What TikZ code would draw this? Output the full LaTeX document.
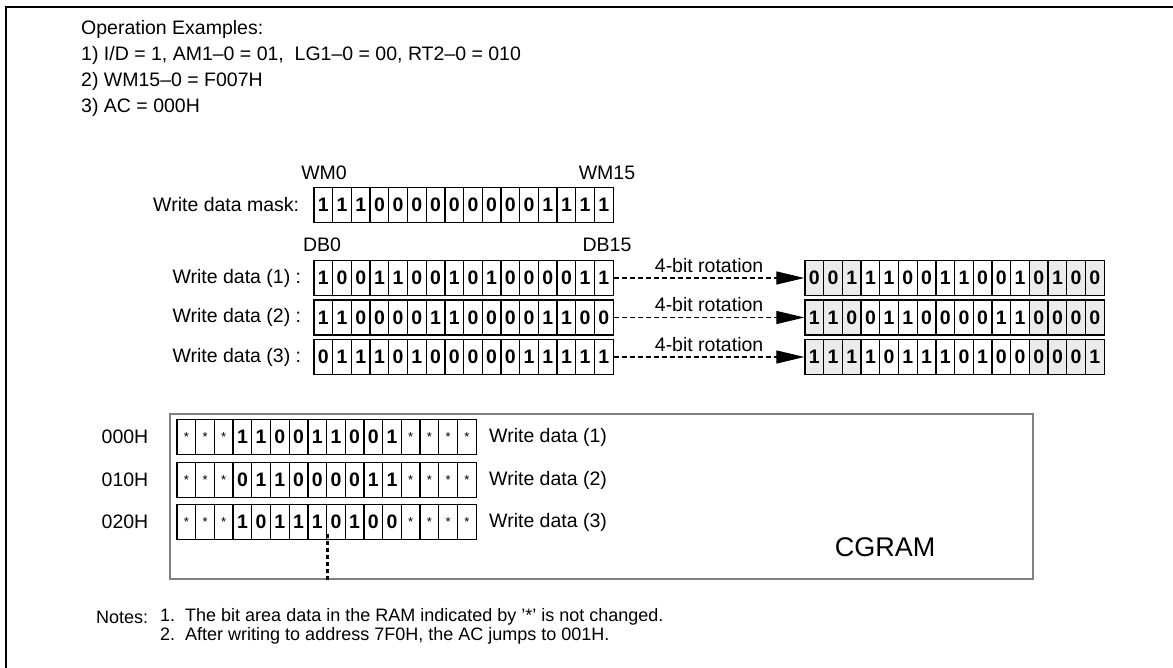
\documentclass[tikz,border=0pt]{standalone}
\usepackage{fontspec}
\setmainfont{Liberation Sans}
\usetikzlibrary{arrows.meta}
\newcommand\szA{\fontsize{19.5}{24}\selectfont}
\newcommand\szN{\fontsize{18}{20}\selectfont}
\newcommand\szC{\fontsize{27}{30}\selectfont}
\newcommand\stc{{\mdseries\fontsize{13}{13}\selectfont *}}
\tikzset{
  cell/.style={draw=black, line width=1.3pt, minimum width=18.7pt, minimum height=35pt,
    inner sep=0pt, font=\szA\bfseries},
  lbl/.style={inner sep=0pt, font=\szA},
  note/.style={inner sep=0pt, font=\szN, anchor=west},
  rotarrow/.style={line width=1.2pt, dash pattern=on 5pt off 3pt,
    -{Triangle[length=28pt,width=13pt]}},
  ramframe/.style={draw=black!50, line width=2.8pt},
  thickdash/.style={line width=3.5pt, dash pattern=on 4pt off 3pt}
}
\begin{document}
\begin{tikzpicture}[x=1pt,y=-1pt]
\useasboundingbox (0,0) rectangle (1173,668);
% outer frame
\coordinate (fbl) at (6,668);
\coordinate (ftl) at (6,7);
\coordinate (ftr) at (1173,7);
\draw[line width=2pt] (fbl) -- (ftl) -- (ftr);
% heading text
\node[lbl, anchor=west] (t0) at (81,29) {Operation Examples:};
\node[lbl, anchor=west] (t1) at (81,55) {1) I/D = 1, AM1–0 = 01,\ \ LG1–0 = 00, RT2–0 = 010};
\node[lbl, anchor=west] (t2) at (81,81) {2) WM15–0 = F007H};
\node[lbl, anchor=west] (t3) at (81,107) {3) AC = 000H};
% write data mask
\node[lbl] (wm0) at (324,173) {WM0};
\node[lbl] (wm15) at (607,173) {WM15};
\foreach \b [count=\i] in {1,1,1,0,0,0,0,0,0,0,0,0,1,1,1,1}
  \node[cell] (m\i) at ({314+18.7*(\i-0.5)},205) {\b};
\node[lbl, anchor=east] (ml) at ([xshift=-14pt]m1.west) {Write data mask:};
% write data rows
\node[lbl] (db0) at (322,245) {DB0};
\node[lbl] (db15) at (607,245) {DB15};
\foreach \b [count=\i] in {1,0,0,1,1,0,0,1,0,1,0,0,0,0,1,1}
  \node[cell] (a\i) at ({314+18.7*(\i-0.5)},278) {\b};
\foreach \b [count=\i] in {1,1,0,0,0,0,1,1,0,0,0,0,1,1,0,0}
  \node[cell] (b\i) at ({314+18.7*(\i-0.5)},317.5) {\b};
\foreach \b [count=\i] in {0,1,1,1,0,1,0,0,0,0,0,1,1,1,1,1}
  \node[cell] (c\i) at ({314+18.7*(\i-0.5)},357) {\b};
\node[lbl, anchor=east] (al) at ([xshift=-12pt]a1.west) {Write data (1) :};
\node[lbl, anchor=east] (bl) at ([xshift=-12pt]b1.west) {Write data (2) :};
\node[lbl, anchor=east] (cl) at ([xshift=-12pt]c1.west) {Write data (3) :};
% rotated rows
\foreach \b/\f [count=\i] in {0/8,0/8,1/8,1/0,1/0,0/0,0/0,1/0,1/0,0/0,0/0,1/0,0/8,1/8,0/8,0/8}
  \node[cell, fill=black!\f!white] (ra\i) at ({805+18.7*(\i-0.5)},278) {\b};
\foreach \b/\f [count=\i] in {1/8,1/8,0/8,0/0,1/0,1/0,0/0,0/0,0/0,0/0,1/0,1/0,0/8,0/8,0/8,0/8}
  \node[cell, fill=black!\f!white] (rb\i) at ({805+18.7*(\i-0.5)},317.5) {\b};
\foreach \b/\f [count=\i] in {1/8,1/8,1/8,1/0,0/0,1/0,1/0,1/0,0/0,1/0,0/0,0/0,0/8,0/8,0/8,1/8}
  \node[cell, fill=black!\f!white] (rc\i) at ({805+18.7*(\i-0.5)},357) {\b};
% rotation arrows
\draw[rotarrow] (a16.east) -- node[lbl, above=5pt] (rota) {4-bit rotation} (ra1.west);
\draw[rotarrow] (b16.east) -- node[lbl, above=5pt] (rotb) {4-bit rotation} (rb1.west);
\draw[rotarrow] (c16.east) -- node[lbl, above=5pt] (rotc) {4-bit rotation} (rc1.west);
% CGRAM
\node[ramframe, minimum width=863pt, minimum height=165pt, inner sep=0pt] (ram) at (601.5,496.5) {};
\node[inner sep=0pt, font=\szC] (ramlbl) at (885,547) {CGRAM};
\foreach \b [count=\i] in {\stc,\stc,\stc,1,1,0,0,1,1,0,0,1,\stc,\stc,\stc,\stc}
  \node[cell] (p\i) at ({177+18.7*(\i-0.5)},437) {\b};
\foreach \b [count=\i] in {\stc,\stc,\stc,0,1,1,0,0,0,0,1,1,\stc,\stc,\stc,\stc}
  \node[cell] (q\i) at ({177+18.7*(\i-0.5)},480) {\b};
\foreach \b [count=\i] in {\stc,\stc,\stc,1,0,1,1,1,0,1,0,0,\stc,\stc,\stc,\stc}
  \node[cell] (s\i) at ({177+18.7*(\i-0.5)},522) {\b};
\node[lbl] (ad0) at (125,437) {000H};
\node[lbl] (ad1) at (125,480) {010H};
\node[lbl] (ad2) at (125,522) {020H};
\node[lbl, anchor=west] (pw) at (489,437) {Write data (1)};
\node[lbl, anchor=west] (qw) at (489,480) {Write data (2)};
\node[lbl, anchor=west] (sw) at (489,522) {Write data (3)};
\coordinate (dtop) at ([yshift=6pt]s8.south east);
\coordinate (dbot) at (dtop |- ram.south);
\draw[thickdash] (dtop) -- (dbot);
% notes
\node[note] (nt) at (96,617) {Notes:};
\node[note] (n1) at (160,617) {1.\ \ The bit area data in the RAM indicated by '*' is not changed.};
\node[note] (n2) at (160,636) {2.\ \ After writing to address 7F0H, the AC jumps to 001H.};
\end{tikzpicture}
\end{document}
